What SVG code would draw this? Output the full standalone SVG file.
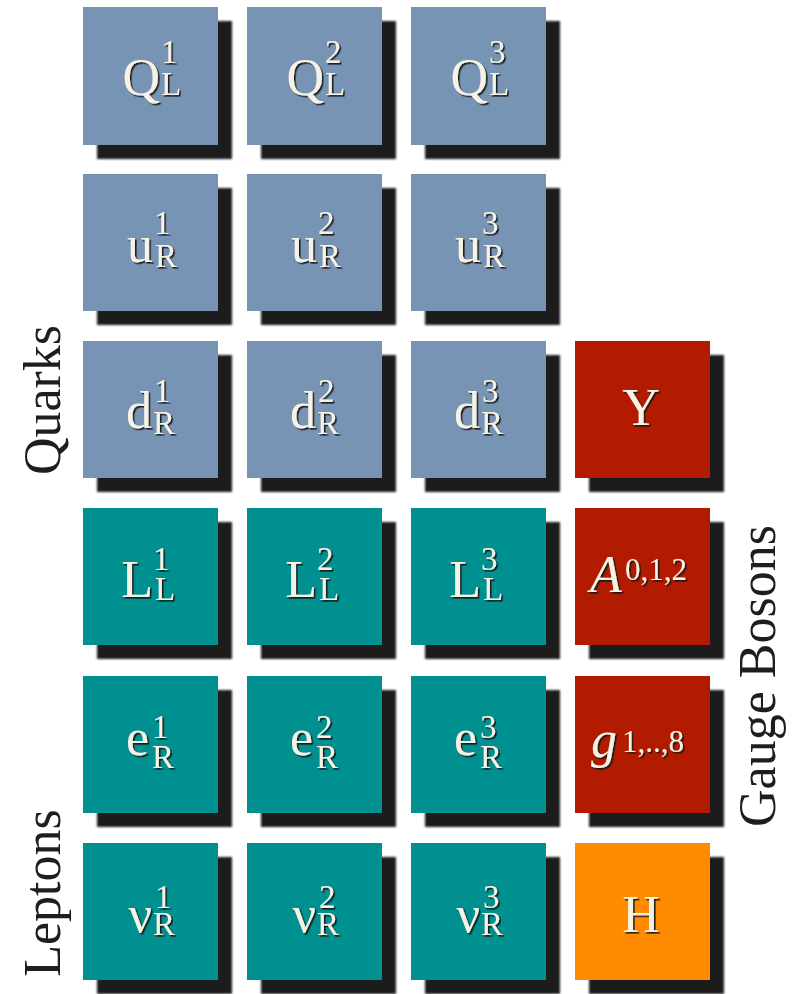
<svg xmlns="http://www.w3.org/2000/svg" width="794" height="994" viewBox="0 0 794 994">
<defs>
<filter id="ts" x="-20%" y="-20%" width="140%" height="140%"><feDropShadow dx="1.6" dy="1.6" stdDeviation="0.6" flood-color="#151515" flood-opacity="0.95"/></filter>
<filter id="bs" x="-5%" y="-5%" width="110%" height="110%"><feGaussianBlur stdDeviation="0.9"/></filter>
<style>
.sh{fill:#1b1b1b;filter:url(#bs)}
.q{fill:#7894b5}
.l{fill:#009090}
.b{fill:#b31b00}
.h{fill:#ff8c00}
text{font-family:"Liberation Serif","Times New Roman",serif}
.m{font-size:52px;fill:#f6f2e6;filter:url(#ts)}
.s{font-size:33px;fill:#f6f2e6;filter:url(#ts)}
.bs{font-size:31px;fill:#f6f2e6;filter:url(#ts)}
.it{font-style:italic}
.cat{font-size:52px;fill:#1e1e1e}
</style>
</defs>
<rect width="794" height="994" fill="#ffffff"/>

<!-- Row 1: Q_L -->
<g id="QL1"><rect class="sh" x="97" y="21" width="135" height="138"/><rect class="q" x="83" y="7" width="135" height="138"/>
<text class="m" x="160" y="95" text-anchor="end">Q</text><text class="s" x="161" y="63">1</text><text class="s" x="161" y="95">L</text></g>
<g id="QL2"><rect class="sh" x="261" y="21" width="135" height="138"/><rect class="q" x="247" y="7" width="135" height="138"/>
<text class="m" x="324" y="95" text-anchor="end">Q</text><text class="s" x="325" y="63">2</text><text class="s" x="325" y="95">L</text></g>
<g id="QL3"><rect class="sh" x="425" y="21" width="135" height="138"/><rect class="q" x="411" y="7" width="135" height="138"/>
<text class="m" x="488" y="95" text-anchor="end">Q</text><text class="s" x="489" y="63">3</text><text class="s" x="489" y="95">L</text></g>

<!-- Row 2: u_R -->
<g id="uR1"><rect class="sh" x="97" y="188" width="135" height="137"/><rect class="q" x="83" y="174" width="135" height="137"/>
<text class="m" x="153" y="262" text-anchor="end">u</text><text class="s" x="154" y="234">1</text><text class="s" x="155" y="267">R</text></g>
<g id="uR2"><rect class="sh" x="261" y="188" width="135" height="137"/><rect class="q" x="247" y="174" width="135" height="137"/>
<text class="m" x="317" y="262" text-anchor="end">u</text><text class="s" x="318" y="234">2</text><text class="s" x="319" y="267">R</text></g>
<g id="uR3"><rect class="sh" x="425" y="188" width="135" height="137"/><rect class="q" x="411" y="174" width="135" height="137"/>
<text class="m" x="481" y="262" text-anchor="end">u</text><text class="s" x="482" y="234">3</text><text class="s" x="483" y="267">R</text></g>

<!-- Row 3: d_R -->
<g id="dR1"><rect class="sh" x="97" y="355" width="135" height="137"/><rect class="q" x="83" y="341" width="135" height="137"/>
<text class="m" x="152" y="428" text-anchor="end">d</text><text class="s" x="154" y="402">1</text><text class="s" x="153" y="434">R</text></g>
<g id="dR2"><rect class="sh" x="261" y="355" width="135" height="137"/><rect class="q" x="247" y="341" width="135" height="137"/>
<text class="m" x="316" y="428" text-anchor="end">d</text><text class="s" x="318" y="402">2</text><text class="s" x="317" y="434">R</text></g>
<g id="dR3"><rect class="sh" x="425" y="355" width="135" height="137"/><rect class="q" x="411" y="341" width="135" height="137"/>
<text class="m" x="480" y="428" text-anchor="end">d</text><text class="s" x="482" y="402">3</text><text class="s" x="481" y="434">R</text></g>
<g id="Y"><rect class="sh" x="589" y="355" width="135" height="137"/><rect class="b" x="575" y="341" width="135" height="137"/>
<text class="m" x="641" y="425" text-anchor="middle">Y</text></g>

<!-- Row 4: L_L -->
<g id="LL1"><rect class="sh" x="97" y="522" width="135" height="137"/><rect class="l" x="83" y="508" width="135" height="137"/>
<text class="m" x="153" y="597" text-anchor="end">L</text><text class="s" x="153" y="570">1</text><text class="s" x="155" y="600">L</text></g>
<g id="LL2"><rect class="sh" x="261" y="522" width="135" height="137"/><rect class="l" x="247" y="508" width="135" height="137"/>
<text class="m" x="317" y="597" text-anchor="end">L</text><text class="s" x="317" y="570">2</text><text class="s" x="319" y="600">L</text></g>
<g id="LL3"><rect class="sh" x="425" y="522" width="135" height="137"/><rect class="l" x="411" y="508" width="135" height="137"/>
<text class="m" x="481" y="597" text-anchor="end">L</text><text class="s" x="481" y="570">3</text><text class="s" x="483" y="600">L</text></g>
<g id="A"><rect class="sh" x="589" y="522" width="135" height="137"/><rect class="b" x="575" y="508" width="135" height="137"/>
<text class="m it" x="590" y="592">A</text><text class="bs" x="625" y="580">0,1,2</text></g>

<!-- Row 5: e_R -->
<g id="eR1"><rect class="sh" x="97" y="690" width="135" height="137"/><rect class="l" x="83" y="676" width="135" height="137"/>
<text class="m" x="149" y="755" text-anchor="end">e</text><text class="s" x="152" y="738">1</text><text class="s" x="152" y="768">R</text></g>
<g id="eR2"><rect class="sh" x="261" y="690" width="135" height="137"/><rect class="l" x="247" y="676" width="135" height="137"/>
<text class="m" x="313" y="755" text-anchor="end">e</text><text class="s" x="316" y="738">2</text><text class="s" x="316" y="768">R</text></g>
<g id="eR3"><rect class="sh" x="425" y="690" width="135" height="137"/><rect class="l" x="411" y="676" width="135" height="137"/>
<text class="m" x="477" y="755" text-anchor="end">e</text><text class="s" x="480" y="738">3</text><text class="s" x="480" y="768">R</text></g>
<g id="g"><rect class="sh" x="589" y="690" width="135" height="137"/><rect class="b" x="575" y="676" width="135" height="137"/>
<text class="m it" x="591" y="757">g</text><text class="bs" x="622" y="752">1,..,8</text></g>

<!-- Row 6: nu_R -->
<g id="nuR1"><rect class="sh" x="97" y="857" width="135" height="137"/><rect class="l" x="83" y="843" width="135" height="137"/>
<text class="m" x="152" y="932" text-anchor="end">ν</text><text class="s" x="155" y="908">1</text><text class="s" x="153" y="935">R</text></g>
<g id="nuR2"><rect class="sh" x="261" y="857" width="135" height="137"/><rect class="l" x="247" y="843" width="135" height="137"/>
<text class="m" x="316" y="932" text-anchor="end">ν</text><text class="s" x="319" y="908">2</text><text class="s" x="317" y="935">R</text></g>
<g id="nuR3"><rect class="sh" x="425" y="857" width="135" height="137"/><rect class="l" x="411" y="843" width="135" height="137"/>
<text class="m" x="480" y="932" text-anchor="end">ν</text><text class="s" x="483" y="908">3</text><text class="s" x="481" y="935">R</text></g>
<g id="H"><rect class="sh" x="589" y="857" width="135" height="137"/><rect class="h" x="575" y="843" width="135" height="137"/>
<text class="m" x="641" y="932" text-anchor="middle">H</text></g>

<!-- Category labels -->
<g id="labels">
<text class="cat" transform="translate(60,400) rotate(-90)" text-anchor="middle">Quarks</text>
<text class="cat" transform="translate(60,893) rotate(-90)" text-anchor="middle">Leptons</text>
<text class="cat" transform="translate(775,676) rotate(-90)" text-anchor="middle">Gauge Bosons</text>
</g>
<g id="connectors"/>
</svg>
